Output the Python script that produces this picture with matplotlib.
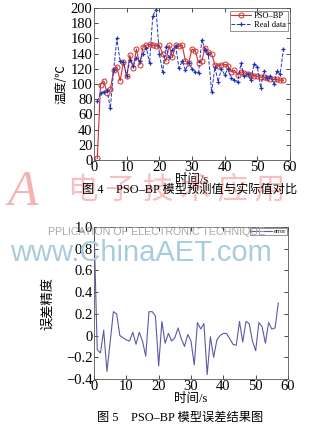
import matplotlib
matplotlib.use("Agg")
import matplotlib.pyplot as plt
import numpy as np

plt.rcParams['font.family'] = ['Liberation Serif', 'Noto Sans CJK SC', 'DejaVu Sans']
plt.rcParams['axes.unicode_minus'] = True

# ---- data ----
time_s = list(range(1, 59))
pso_bp = [2, 99, 104, 88, 93, 118, 123, 104, 129, 110,
          138, 121, 146, 125, 149, 151, 152, 151, 150, 151,
          140, 130, 151, 135, 151, 150, 151, 130, 128, 146,
          144, 128, 130, 148, 142, 140, 125, 124, 125, 126,
          124, 116, 118, 112, 116, 115, 113, 112, 111, 110,
          109, 109, 108, 107, 106, 106, 105, 105]
real_data = [77, 88, 90, 92, 68, 118, 160, 130, 129, 110,
             132, 124, 134, 130, 140, 148, 127, 190, 198, 140,
             116, 149, 135, 145, 150, 121, 130, 118, 128, 120,
             116, 115, 158, 145, 139, 89, 122, 103, 120, 112,
             120, 108, 105, 103, 127, 110, 113, 105, 126, 123,
             95, 117, 108, 111, 100, 117, 113, 146]

err_time = list(range(0, 58))
error = [1.0, -0.13, -0.16, 0.05, -0.33, -0.06, 0.22, 0.2, 0.0, -0.02,
         -0.04, -0.05, 0.03, -0.08, 0.03, -0.05, -0.19, 0.22, 0.22, 0.18,
         -0.28, 0.13, -0.07, 0.02, -0.05, -0.02, 0.07, -0.03, -0.1, 0.01,
         -0.05, -0.27, 0.12, 0.06, 0.11, -0.36, -0.01, -0.2, -0.04, 0.0,
         0.02, 0.02, -0.03, -0.08, -0.09, 0.13, -0.06, 0.13, 0.11, -0.05,
         -0.14, 0.12, 0.08, -0.07, 0.12, 0.06, 0.07, 0.3]

x_ticks = [0, 10, 20, 30, 40, 50, 60]
y1_ticks = [0, 20, 40, 60, 80, 100, 120, 140, 160, 180, 200]
y2_ticks = [-0.4, -0.2, 0, 0.2, 0.4, 0.6, 0.8, 1.0]
y2_labels = ['\u22120.4', '\u22120.2', '0', '0.2', '0.4', '0.6', '0.8', '1.0']

W, H = 324, 430
fig = plt.figure(figsize=(W / 100, H / 100), dpi=100)
fig.patch.set_facecolor('white')

cjk = ['Noto Sans CJK SC', 'DejaVu Sans']
mixed = ['Liberation Serif', 'Noto Sans CJK SC', 'DejaVu Sans']

# ---- watermark (behind) ----
fig.text(8 / W, 1 - 193 / H, 'A', fontsize=36, color='#f08080', alpha=0.6,
         family='Liberation Serif', style='italic', va='center', ha='left', zorder=0)
fig.text(68 / W, 1 - 190 / H, '电 子 技 术 应 用', fontsize=22, color='#f06060', alpha=0.4,
         family=cjk, va='center', ha='left', zorder=0)
fig.text(48 / W, 1 - 232 / H, 'PPLICATION OF ELECTRONIC TECHNIQUE', fontsize=7.7,
         color='#a8a8a8', family='Liberation Sans', va='center', ha='left', zorder=0)
fig.text(10 / W, 1 - 253 / H, 'www.ChinaAET.com', fontsize=21, color='#a9cbe0',
         family='Liberation Sans', va='center', ha='left', zorder=0)

# ---- top chart ----
ax1 = fig.add_axes([94 / W, 1 - 160 / H, 196 / W, 152 / H])
ax1.patch.set_alpha(0)
ax1.plot(time_s, pso_bp, '-', color='#d03030', lw=0.8, marker='o', ms=3.6,
         mfc='none', mec='#d03030', mew=0.7, label='PSO\u2013BP')
ax1.plot(time_s, real_data, '--', color='#2233bb', lw=0.7, marker='+', ms=3.5,
         mew=0.9, label='Real data')
ax1.set_xlim(0, 60)
ax1.set_ylim(0, 200)
ax1.set_xticks(x_ticks)
ax1.set_yticks(y1_ticks)
ax1.tick_params(direction='in', top=True, right=True, labelsize=10.5, length=3,
                width=0.5, pad=1)
for s in ax1.spines.values():
    s.set_linewidth(0.6)
    s.set_color('#555555')
ax1.set_ylabel('温度/℃', family=cjk, fontsize=8.5, labelpad=2)
ax1.set_xlabel('时间/s', family=mixed, fontsize=9, labelpad=0)
leg = ax1.legend(loc='upper right', fontsize=6, frameon=True, fancybox=False,
                 edgecolor='#444444', borderpad=0.2, handlelength=2.4,
                 handletextpad=0.3, labelspacing=0.1, borderaxespad=0.3)
leg.get_frame().set_linewidth(0.5)

fig.text(190 / W, 1 - 190 / H, '图 4    PSO\u2013BP 模型预测值与实际值对比',
         family=mixed, fontsize=8.8, ha='center', va='center')

# ---- bottom chart ----
ax2 = fig.add_axes([94 / W, 1 - 379 / H, 194 / W, 152 / H])
ax2.patch.set_alpha(0)
ax2.plot(err_time, error, '-', color='#5a5aa8', lw=0.8, label='error')
ax2.set_xlim(0, 60)
ax2.set_ylim(-0.4, 1.0)
ax2.set_xticks(x_ticks)
ax2.set_yticks(y2_ticks)
ax2.set_yticklabels(y2_labels)
ax2.tick_params(direction='in', top=True, right=True, labelsize=10.5, length=3,
                width=0.5, pad=1)
for s in ax2.spines.values():
    s.set_linewidth(0.6)
    s.set_color('#555555')
ax2.set_ylabel('误差精度', family=cjk, fontsize=9.5, labelpad=9)
ax2.set_xlabel('时间/s', family=mixed, fontsize=9, labelpad=0)
leg2 = ax2.legend(loc='upper right', fontsize=4.5, frameon=True, fancybox=False,
                  edgecolor='#444444', borderpad=0.15, handlelength=3.5,
                  handletextpad=0.3, borderaxespad=0.1)
leg2.get_frame().set_linewidth(0.5)

fig.text(180 / W, 1 - 418 / H, '图 5    PSO\u2013BP 模型误差结果图',
         family=mixed, fontsize=8.8, ha='center', va='center')

fig.savefig('out.png', dpi=100)
